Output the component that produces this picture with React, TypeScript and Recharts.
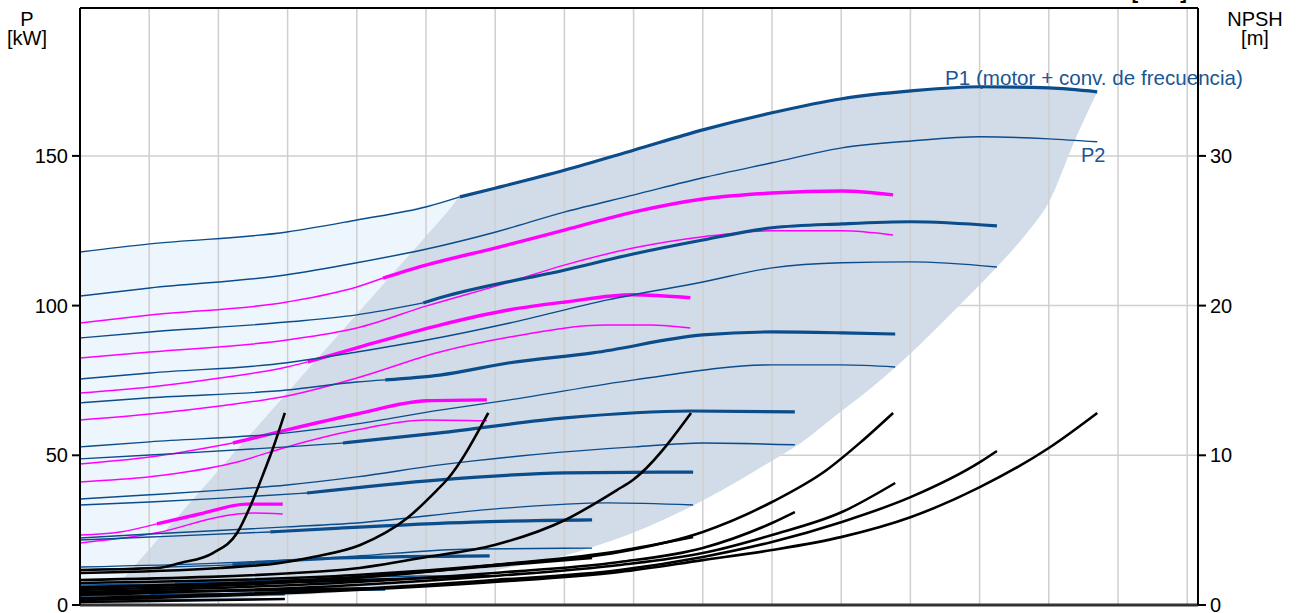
import React from 'react';
import {
  ComposedChart,
  Line,
  Area,
  XAxis,
  YAxis,
  CartesianGrid,
  ReferenceLine,
} from 'recharts';

type Pt = [number, number];

const qTicks = [0, 10, 20, 30, 40, 50, 60, 70, 80, 90, 100, 110, 120, 130, 140, 150, 160];
const pTicks = [0, 50, 100, 150];
const npshTicks = [0, 10, 20, 30];

// P1 / P2 per speed (kW), flow q in grid units
const p1_100: Pt[] = [[0, 117.9], [10.1, 120.6], [29.9, 124.6], [40, 128.6], [50.1, 133.0], [54.9, 136.3], [60.1, 139.3], [70.1, 145.3], [80.1, 152.0], [90, 158.7], [100, 164.4], [110.1, 169.1], [120.1, 171.7], [130.1, 173.1], [140, 172.7], [147, 171.4]];
const p2_100: Pt[] = [[0, 103.2], [10.1, 105.9], [29.9, 110.3], [40, 114.3], [50.1, 118.9], [60.1, 124.6], [70.1, 131.3], [80.1, 137.0], [90, 142.7], [100, 147.7], [110.1, 152.7], [120.1, 155.0], [130.1, 156.4], [140, 155.7], [147, 154.7]];
const p1_90: Pt[] = [[0, 89.2], [10.1, 91.2], [29.9, 94.5], [40, 96.9], [49.6, 100.9], [52, 102.6], [70.1, 111.9], [80.1, 117.3], [90, 121.9], [100, 126.0], [110.1, 127.3], [120.1, 128.0], [132.5, 126.6]];
const p2_90: Pt[] = [[0, 75.5], [10.1, 77.5], [29.9, 80.9], [40, 84.5], [50.1, 88.5], [62.1, 94.2], [76.2, 101.9], [90, 107.9], [100, 112.6], [110.1, 114.3], [120.1, 114.6], [132.5, 112.9]];
const p1_80: Pt[] = [[0, 67.5], [10.1, 69.2], [29.9, 71.8], [40, 74.5], [44.1, 75.2], [52, 76.8], [62.1, 80.9], [74.1, 84.2], [90, 90.2], [100, 91.2], [110.1, 90.9], [117.8, 90.5]];
const p2_80: Pt[] = [[0, 52.8], [10.1, 54.5], [29.9, 57.5], [40, 60.5], [52, 65.1], [62.1, 68.5], [80.1, 75.2], [100, 80.2], [110.1, 80.2], [117.8, 79.5]];
const p1_70: Pt[] = [[0, 48.8], [10.1, 50.1], [29.9, 52.8], [38, 54.1], [52, 57.5], [70.1, 62.5], [88.2, 64.8], [103.3, 64.5]];
const p2_70: Pt[] = [[0, 35.4], [10.1, 36.8], [20, 38.3], [29.9, 40.1], [40, 42.8], [52, 46.8], [66, 50.3], [80.1, 52.8], [90, 54.1], [103.3, 53.5]];
const p1_60: Pt[] = [[0, 33.4], [10.1, 34.4], [20, 35.6], [32.8, 37.4], [52, 41.8], [70.1, 44.1], [88.6, 44.4]];
const p2_60: Pt[] = [[0, 22.4], [10.1, 23.7], [29.9, 26.1], [40, 27.4], [60.1, 32.1], [76.2, 34.1], [88.6, 33.4]];
const p1_50: Pt[] = [[0, 21.7], [10.1, 22.7], [27.5, 24.4], [37.6, 25.7], [56.8, 27.7], [74, 28.4]];
const p2_50: Pt[] = [[0, 12.7], [20, 14.0], [37.6, 16.0], [56.8, 18.7], [74, 19.0]];
const p1_40: Pt[] = [[0, 11.7], [22, 13.4], [37.6, 15.7], [59.2, 16.4]];
const p2_40: Pt[] = [[0, 7.4], [29.9, 8.4], [49.6, 9.7], [59.2, 9.7]];
const p1_30: Pt[] = [[0, 6.7], [13.7, 7.0], [29.9, 7.8], [44.1, 8.4]];
const p2_30: Pt[] = [[0, 4.3], [44.1, 5.0]];
const p1_20: Pt[] = [[0, 3.0], [10.1, 3.3], [29.6, 3.7]];
const p2_20: Pt[] = [[0, 1.7], [29.6, 2.0]];

// magenta pairs (kW)
const m1_80: Pt[] = [[0, 94.2], [10.1, 96.9], [29.9, 101.2], [40, 106.2], [43.8, 109.2], [50.1, 113.6], [60.1, 119.3], [70.1, 125.3], [80.1, 131.3], [90, 135.6], [100, 137.6], [110.1, 138.3], [117.5, 137.0]];
const m2_80: Pt[] = [[0, 82.5], [10.1, 84.5], [29.9, 88.5], [40, 92.5], [50.1, 99.9], [61.7, 107.6], [70.1, 113.6], [80.1, 119.3], [90, 123.0], [100, 125.0], [110.1, 125.0], [117.5, 123.6]];
const m1_60: Pt[] = [[0, 70.8], [10.1, 72.8], [20.2, 75.8], [29.9, 79.5], [32.9, 81.2], [40, 85.9], [52, 93.5], [62.1, 98.6], [70.1, 101.2], [79.9, 103.6], [88.2, 102.6]];
const m2_60: Pt[] = [[0, 61.8], [10.1, 63.8], [20.2, 66.5], [29.9, 69.8], [40, 75.8], [52, 84.5], [62.1, 89.5], [76.2, 93.5], [82.4, 93.5], [88.2, 92.5]];
const m1_40: Pt[] = [[0, 47.1], [10.1, 49.4], [22.1, 54.1], [29.9, 58.5], [40, 63.8], [50.1, 68.2], [58.8, 68.5]];
const m2_40: Pt[] = [[0, 41.1], [10.1, 42.8], [22.1, 47.4], [29.9, 52.8], [40, 58.5], [50.1, 61.8], [58.8, 61.5]];
const m1_20: Pt[] = [[0, 23.4], [5.8, 24.4], [11.1, 27.1], [17.3, 30.4], [24.1, 33.7], [29.3, 33.7]];
const m2_20: Pt[] = [[0, 20.7], [11.1, 24.1], [21.7, 30.1], [25, 30.7], [29.3, 30.4]];

// NPSH (m)
const nA20: Pt[] = [[0, 2.34], [11.1, 2.47], [14.5, 2.81], [19.2, 3.47], [22.7, 4.81], [25.0, 7.02], [26.7, 9.02], [27.9, 10.49], [29.6, 12.83]];
const nA40: Pt[] = [[0, 2.14], [20.2, 2.47], [28.9, 2.81], [33.7, 3.21], [40.5, 4.01], [47.3, 5.81], [51.6, 7.68], [53.0, 8.35], [59.0, 12.83]];
const nA60: Pt[] = [[0, 1.67], [37.6, 2.34], [50.1, 3.21], [59.9, 4.01], [70.1, 5.68], [77.6, 7.68], [79.9, 8.35], [88.3, 12.83]];
const nA80: Pt[] = [[0, 1.47], [39.9, 2.0], [59.8, 2.67], [78, 3.54], [90, 4.88], [100, 6.88], [107.9, 9.02], [112.7, 10.83], [117.5, 12.83]];
const nB100: Pt[] = [[0, 0.33], [39.9, 1.0], [59.8, 1.54], [78, 2.21], [90, 3.0], [100, 3.67], [110.1, 4.55], [120.1, 5.88], [130.1, 7.89], [140, 10.49], [147, 12.83]];
const nB90: Pt[] = [[0, 0.47], [39.9, 1.07], [59.8, 1.67], [78, 2.34], [90, 3.21], [100, 4.21], [110.1, 5.55], [120.1, 7.22], [130.1, 9.56], [132.5, 10.29]];
const nB80: Pt[] = [[0, 0.67], [39.9, 1.34], [59.8, 1.94], [78, 2.67], [90, 3.47], [100, 4.68], [110.1, 6.21], [117.8, 8.15]];
const nB70: Pt[] = [[0, 0.87], [39.9, 1.54], [59.8, 2.14], [78, 2.87], [90, 3.81], [100, 5.48], [103.3, 6.21]];
const nB60: Pt[] = [[0, 1.0], [39.9, 1.8], [59.8, 2.67], [78, 3.61], [88.6, 4.54]];
const nB50: Pt[] = [[0, 1.14], [39.9, 1.87], [59.8, 2.61], [74, 3.14]];
const nB40: Pt[] = [[0, 1.2], [31.8, 1.54], [59.2, 1.94]];
const nB30: Pt[] = [[0, 0.8], [44.1, 1.14]];
const nB20: Pt[] = [[0, 0.2], [29.6, 0.4]];

// operating range: [q, lower kW, upper kW]
const rangeBand: [number, number, number][] = [
  [2.9, 0, 0], [10.1, 0.7, 18.9], [17.3, 1.3, 37.9], [29.9, 3.2, 70.8], [37.6, 4.3, 90.9],
  [45, 6.2, 110.2], [53.5, 8.4, 132.5], [54.9, 8.9, 136.3], [60.1, 11.6, 139.3], [70.1, 16.5, 145.3],
  [74.1, 19.4, 147.6], [80.1, 24.3, 152.0], [89.6, 34.4, 158.5], [95.4, 41.8, 161.5], [100, 48.2, 164.4],
  [103.3, 52.8, 166.0], [110.1, 64.9, 169.1], [112.7, 69.5, 169.9], [120.1, 84.2, 171.7], [125.7, 96.9, 172.6],
  [130.1, 107.1, 173.1], [132.5, 112.9, 173.1], [136.6, 123.6, 173.0], [140, 134.5, 172.7], [143.8, 155.4, 172.1],
  [147, 171.4, 171.4],
];
// light zone left of the range: [q, lower kW, upper kW]
const lightBand: [number, number, number][] = [
  [0, 0, 117.9], [2.9, 0, 118.7], [10.1, 18.9, 120.6], [17.3, 37.9, 122.1], [29.9, 70.8, 124.6],
  [37.6, 90.9, 127.6], [45, 110.2, 130.8], [53.5, 132.5, 135.4], [54.9, 136.3, 136.3],
];

const BLUE = '#0B4C8B';
const MAGENTA = '#FF00FF';
const GRID = '#CFCFCF';
const FONT = '"Liberation Sans", Arial, sans-serif';

const blueFamilies = [
  { id: '100', p1: p1_100, thickFrom: 54.9, p2: p2_100 },
  { id: '90', p1: p1_90, thickFrom: 49.6, p2: p2_90 },
  { id: '80', p1: p1_80, thickFrom: 44.1, p2: p2_80 },
  { id: '70', p1: p1_70, thickFrom: 38, p2: p2_70 },
  { id: '60', p1: p1_60, thickFrom: 32.8, p2: p2_60 },
  { id: '50', p1: p1_50, thickFrom: 27.5, p2: p2_50 },
  { id: '40', p1: p1_40, thickFrom: 22, p2: p2_40 },
  { id: '30', p1: p1_30, thickFrom: 13.7, p2: p2_30 },
  { id: '20', p1: p1_20, thickFrom: 10.1, p2: p2_20 },
];

const magentaFamilies = [
  { id: '80', a: m1_80, thickFrom: 43.8, b: m2_80 },
  { id: '60', a: m1_60, thickFrom: 32.9, b: m2_60 },
  { id: '40', a: m1_40, thickFrom: 22.1, b: m2_40 },
  { id: '20', a: m1_20, thickFrom: 11.1, b: m2_20 },
];

const npshCurves = [nB20, nB30, nB40, nB50, nB60, nB70, nB80, nB90, nB100, nA80, nA60, nA40, nA20];

const rows = (pts: Pt[]) => pts.map(([q, v]) => ({ q, v }));
const bandRows = (b: [number, number, number][]) => b.map(([q, lo, hi]) => ({ q, band: [lo, hi] }));

type Spec = { key: string; pts: Pt[]; color: string; width: number; axis: string };

const specs: Spec[] = [
  ...magentaFamilies.flatMap((f) => [
    { key: `mb-${f.id}`, pts: f.b, color: MAGENTA, width: 1.5, axis: 'p' },
    { key: `mat-${f.id}`, pts: f.a.filter(([q]) => q <= f.thickFrom), color: MAGENTA, width: 1.5, axis: 'p' },
    { key: `mak-${f.id}`, pts: f.a.filter(([q]) => q >= f.thickFrom), color: MAGENTA, width: 3.4, axis: 'p' },
  ]),
  ...blueFamilies.flatMap((f) => [
    { key: `p2-${f.id}`, pts: f.p2, color: BLUE, width: 1.4, axis: 'p' },
    { key: `p1t-${f.id}`, pts: f.p1.filter(([q]) => q <= f.thickFrom), color: BLUE, width: 1.4, axis: 'p' },
    { key: `p1k-${f.id}`, pts: f.p1.filter(([q]) => q >= f.thickFrom), color: BLUE, width: 3.2, axis: 'p' },
  ]),
  ...npshCurves.map((c, i) => ({ key: `n-${i}`, pts: c, color: '#000', width: 2.6, axis: 'n' })),
];

export default function App() {
  return (
    <div style={{ position: 'absolute', left: 0, top: 0, width: 1298, height: 613, fontFamily: FONT, overflow: 'hidden' }}>
      <ComposedChart width={1298} height={613} margin={{ top: 8, right: 0, bottom: 0, left: 0 }}>
        <XAxis
          type="number"
          dataKey="q"
          domain={[0, 161.56]}
          ticks={qTicks}
          tick={false}
          tickLine={false}
          height={8}
          axisLine={{ stroke: '#333', strokeWidth: 3 }}
          allowDataOverflow
        />
        <YAxis
          yAxisId="p"
          domain={[0, 199.4]}
          ticks={pTicks}
          interval={0}
          width={80}
          tickSize={8}
          tickMargin={4}
          axisLine={{ stroke: '#000', strokeWidth: 2 }}
          tickLine={{ stroke: '#000', strokeWidth: 2 }}
          tick={{ fontSize: 20, fill: '#000', fontFamily: FONT }}
          allowDataOverflow
        />
        <YAxis
          yAxisId="n"
          orientation="right"
          domain={[0, 39.88]}
          ticks={npshTicks}
          interval={0}
          width={100}
          tickSize={8}
          tickMargin={4}
          axisLine={{ stroke: '#000', strokeWidth: 2 }}
          tickLine={{ stroke: '#000', strokeWidth: 2 }}
          tick={{ fontSize: 20, fill: '#000', fontFamily: FONT }}
          allowDataOverflow
        />
        <Area
          yAxisId="p"
          data={bandRows(lightBand)}
          dataKey="band"
          type="linear"
          fill="#EEF6FD"
          fillOpacity={1}
          stroke="none"
          isAnimationActive={false}
        />
        <Area
          yAxisId="p"
          data={bandRows(rangeBand)}
          dataKey="band"
          type="monotone"
          fill="#D1DCE8"
          fillOpacity={1}
          stroke="none"
          isAnimationActive={false}
        />
        <CartesianGrid
          yAxisId="p"
          stroke={GRID}
          strokeWidth={1.5}
          vertical={false}
          horizontalValues={pTicks}
        />
        {qTicks.map((v) => (
          <ReferenceLine key={`vg-${v}`} yAxisId="p" x={v} stroke={GRID} strokeWidth={1.5} />
        ))}
        <ReferenceLine yAxisId="p" y={199.4} stroke="#000" strokeWidth={2} />
        {specs.map((s) => (
          <Line
            key={s.key}
            yAxisId={s.axis}
            data={rows(s.pts)}
            dataKey="v"
            type="monotone"
            stroke={s.color}
            strokeWidth={s.width}
            dot={false}
            activeDot={false}
            isAnimationActive={false}
          />
        ))}
      </ComposedChart>
      <svg
        width={1298}
        height={613}
        style={{ position: 'absolute', left: 0, top: 0, pointerEvents: 'none' }}
        fontFamily={FONT}
      >
        <text x={27} y={26} fontSize={20} textAnchor="middle" fill="#000">P</text>
        <text x={27} y={45} fontSize={20} textAnchor="middle" fill="#000">[kW]</text>
        <text x={1255} y={26} fontSize={20} textAnchor="middle" fill="#000">NPSH</text>
        <text x={1255} y={45} fontSize={20} textAnchor="middle" fill="#000">[m]</text>
        <text x={1187} y={-1} fontSize={20} fontWeight="bold" textAnchor="end" fill="#000">[m³/h]</text>
        <text x={945} y={85} fontSize={20.6} fill="#1B5693">P1 (motor + conv. de frecuencia)</text>
        <text x={1081} y={162} fontSize={20} fill="#1B5693">P2</text>
      </svg>
    </div>
  );
}
